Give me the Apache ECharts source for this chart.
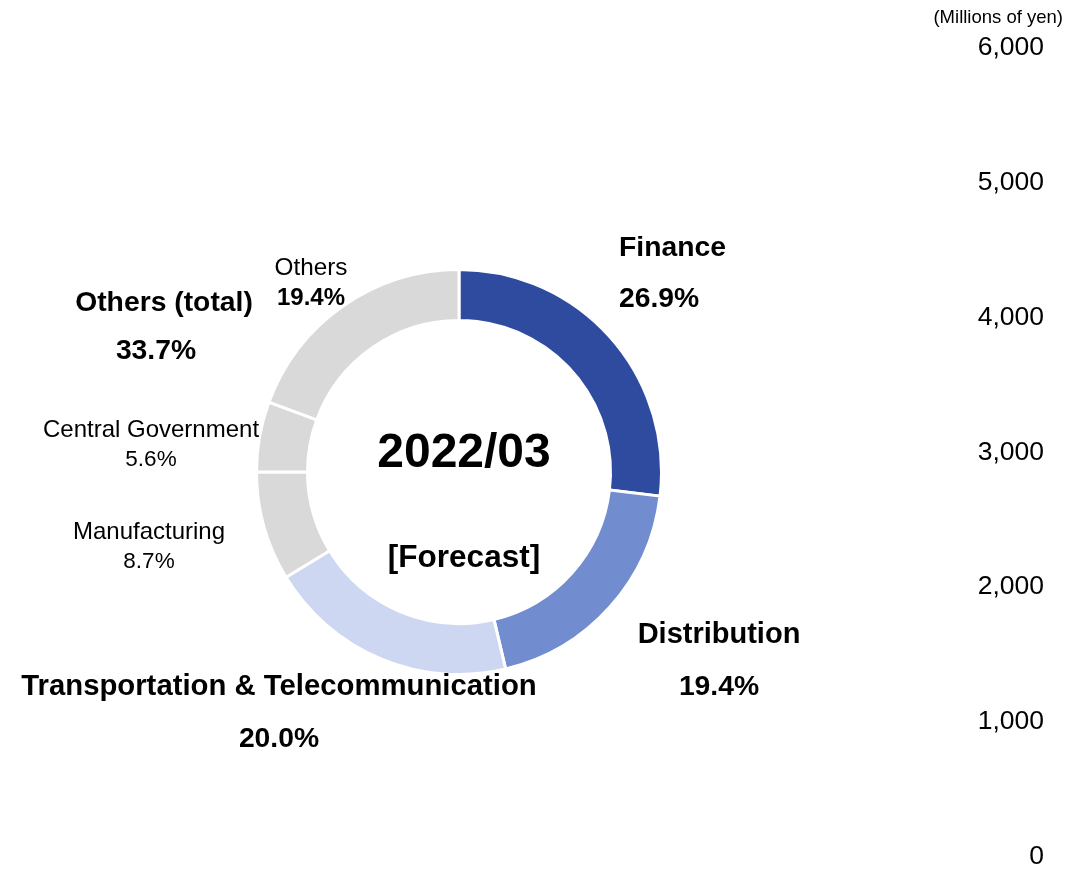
<!DOCTYPE html>
<html>
<head>
<meta charset="utf-8">
<title>Net Sales by Industry</title>
<script src="https://cdn.jsdelivr.net/npm/echarts@6/dist/echarts.min.js"></script>
<style>
  html, body { margin: 0; padding: 0; background: #ffffff; }
  #chart { width: 1066px; height: 870px; }
</style>
</head>
<body>
<div id="chart"></div>
<script>
// Industry share of net sales (percent), clockwise from 12 o'clock
const categories = ['Finance', 'Distribution', 'Transportation & Telecommunication', 'Manufacturing', 'Central Government', 'Others'];
const shares = [26.9, 19.4, 20.0, 8.7, 5.6, 19.4];
const sliceColors = ['#2E4B9F', '#728CD0', '#CDD7F1', '#D9D9D9', '#D9D9D9', '#D9D9D9'];
// Industries rolled up into the "Others (total)" group
const otherGroup = ['Manufacturing', 'Central Government', 'Others'];
const otherGroupTitle = 'Others (total)';

// Centre caption
const periodLabel = '2022/03';
const periodNote = '[Forecast]';

// Right-hand value axis
const axisUnit = '(Millions of yen)';
const axisMin = 0;
const axisMax = 6000;
const axisStep = 1000;

const FONT = "'Liberation Sans', Arial, sans-serif";

// Label placement and style per slice (layout only)
const labelLayoutTable = [
  { x: 619, y: 274, align: 'left',   style: 'f' },
  { x: 719, y: 661, align: 'center', style: 'd' },
  { x: 279, y: 713, align: 'center', style: 't' },
  { x: 149, y: 547, align: 'center', style: 's' },
  { x: 151, y: 445, align: 'center', style: 's' },
  { x: 311, y: 283, align: 'center', style: 'o' }
];

const pct = v => v.toFixed(1) + '%';
const otherTotal = categories.reduce((s, c, i) => otherGroup.includes(c) ? s + shares[i] : s, 0);

const boldLine = (size, lh) => ({ fontSize: size, fontWeight: 'bold', lineHeight: lh, color: '#000', fontFamily: FONT });
const plainLine = (size, lh) => ({ fontSize: size, lineHeight: lh, color: '#000', fontFamily: FONT });

const chart = echarts.init(document.getElementById('chart'), null, { renderer: 'canvas' });

chart.setOption({
  animation: false,
  backgroundColor: '#ffffff',
  textStyle: { fontFamily: FONT, color: '#000' },
  grid: { left: 1052, right: 2, top: 48, bottom: 9 },
  xAxis: { type: 'category', show: false, data: [] },
  yAxis: {
    type: 'value',
    position: 'left',
    min: axisMin,
    max: axisMax,
    interval: axisStep,
    axisLine: { show: false },
    axisTick: { show: false },
    splitLine: { show: false },
    axisLabel: {
      margin: 8,
      fontSize: 26.5,
      color: '#000',
      fontFamily: FONT,
      formatter: v => v.toLocaleString('en-US')
    }
  },
  graphic: [
    { type: 'text', right: 3, top: 8,
      style: { text: axisUnit, font: '18.5px ' + FONT, fill: '#000' } },
    { type: 'text', x: 464, y: 454,
      style: { text: periodLabel, font: 'bold 48px ' + FONT, fill: '#000', textAlign: 'center', textVerticalAlign: 'middle' } },
    { type: 'text', x: 464, y: 558,
      style: { text: periodNote, font: 'bold 31.5px ' + FONT, fill: '#000', textAlign: 'center', textVerticalAlign: 'middle' } },
    { type: 'text', x: 164, y: 303,
      style: { text: otherGroupTitle, font: 'bold 28.3px ' + FONT, fill: '#000', textAlign: 'center', textVerticalAlign: 'middle' } },
    { type: 'text', x: 156, y: 351,
      style: { text: pct(otherTotal), font: 'bold 28.3px ' + FONT, fill: '#000', textAlign: 'center', textVerticalAlign: 'middle' } }
  ],
  series: [{
    type: 'pie',
    center: [459, 472],
    radius: [151.5, 202.5],
    startAngle: 90,
    clockwise: true,
    avoidLabelOverlap: false,
    silent: true,
    itemStyle: { borderColor: '#ffffff', borderWidth: 3 },
    label: {
      show: true,
      position: 'outside',
      color: '#000',
      fontFamily: FONT,
      formatter: p => {
        const k = labelLayoutTable[p.dataIndex].style;
        return '{n' + k + '|' + p.name + '}\n{p' + k + '|' + pct(p.value) + '}';
      },
      rich: {
        nf: boldLine(28.3, 51), pf: boldLine(28.3, 51),
        nd: boldLine(29, 53), pd: boldLine(28.3, 53),
        nt: boldLine(29.3, 52), pt: boldLine(28.3, 52),
        ns: plainLine(24, 30), ps: plainLine(22.5, 30),
        no: plainLine(24.3, 30), po: boldLine(24, 30)
      }
    },
    labelLine: { show: false },
    labelLayout: p => {
      const l = labelLayoutTable[p.dataIndex];
      return { x: l.x, y: l.y, align: l.align, verticalAlign: 'middle' };
    },
    data: categories.map((c, i) => ({
      name: c,
      value: shares[i],
      itemStyle: { color: sliceColors[i] }
    }))
  }]
});
</script>
</body>
</html>
